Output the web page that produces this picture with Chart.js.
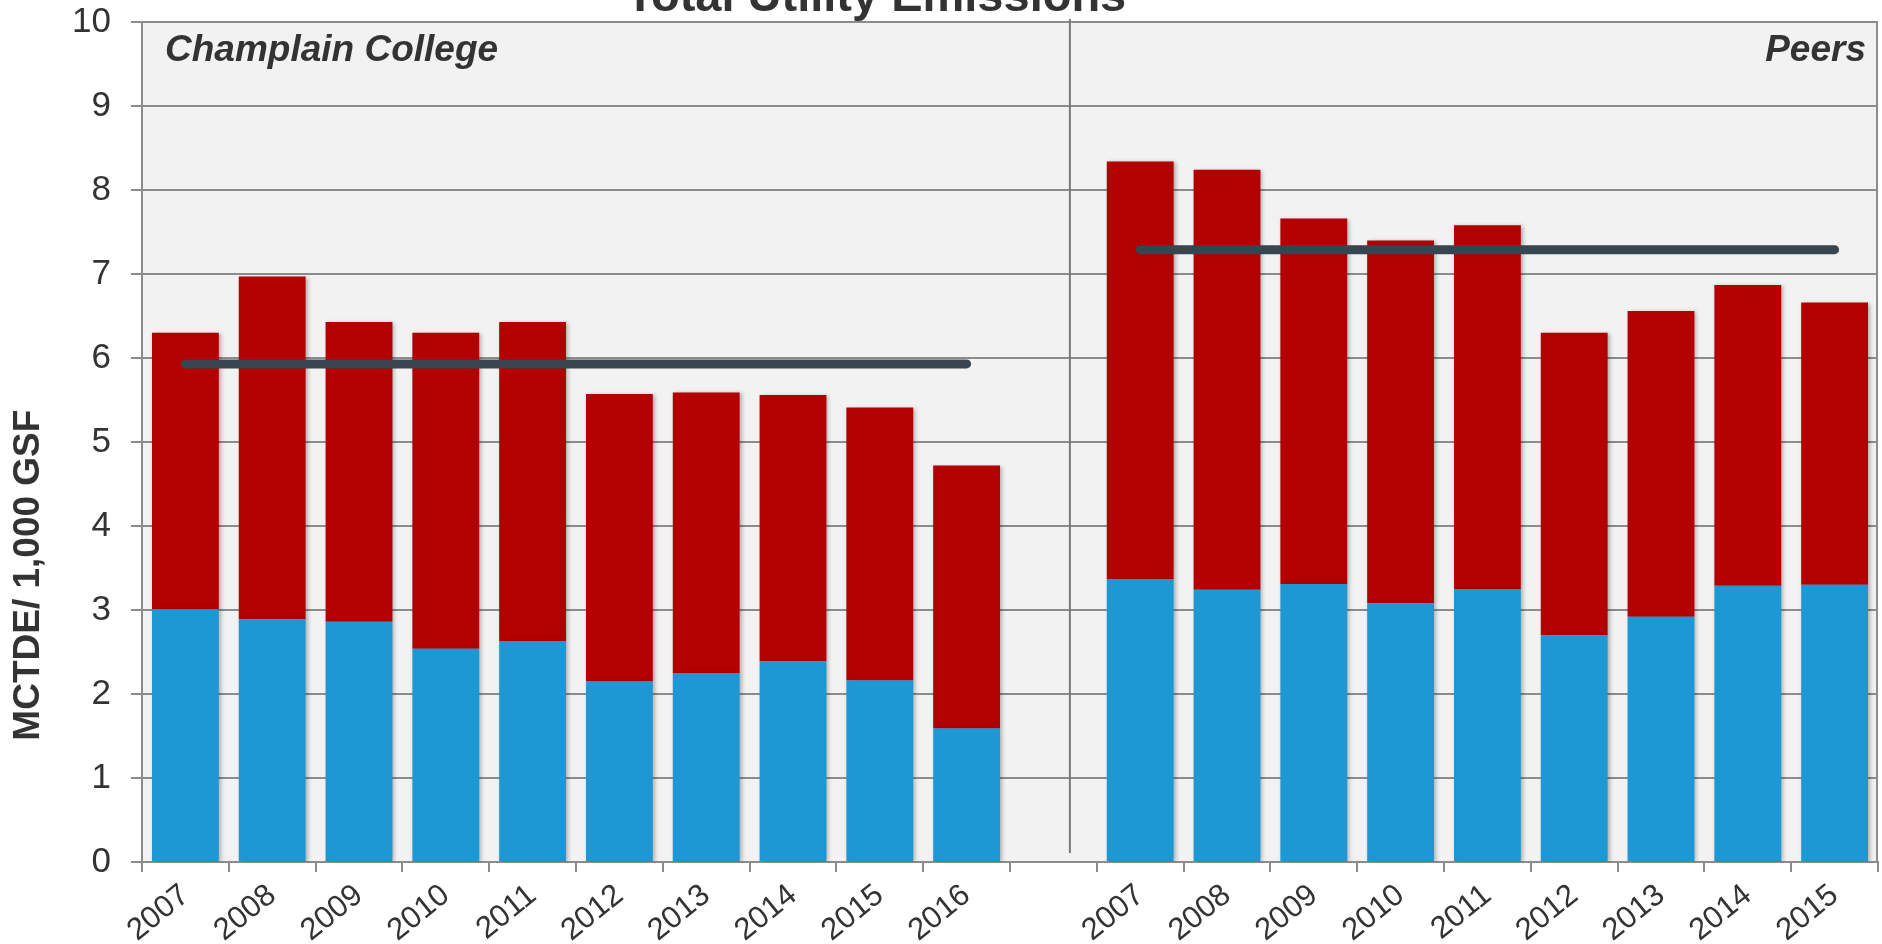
<!DOCTYPE html>
<html>
<head>
<meta charset="utf-8">
<script src="https://cdn.jsdelivr.net/npm/chart.js@4.4.1/dist/chart.umd.min.js"></script>
<style>
html,body{margin:0;padding:0;background:#ffffff;}
#wrap{position:relative;width:1882px;height:944px;overflow:hidden;}
canvas{display:block;}
</style>
</head>
<body>
<div id="wrap"><canvas id="c" width="1882" height="944"></canvas></div>
<script>
// ---- data ----
const categories = ['2007','2008','2009','2010','2011','2012','2013','2014','2015','2016','',
                    '2007','2008','2009','2010','2011','2012','2013','2014','2015'];
// lower (blue) segment
const scope1 = [3.01,2.89,2.86,2.54,2.63,2.15,2.25,2.39,2.16,1.59, null,
                3.37,3.24,3.31,3.08,3.25,2.70,2.92,3.29,3.30];
// upper (red) segment
const scope2 = [3.29,4.08,3.57,3.76,3.80,3.42,3.34,3.17,3.25,3.13, null,
                4.97,5.00,4.35,4.32,4.33,3.60,3.64,3.58,3.36];
// average lines
const collegeAvg = [5.93,5.93,5.93,5.93,5.93,5.93,5.93,5.93,5.93,5.93, null,
                    null,null,null,null,null,null,null,null,null];
const peersAvg = [null,null,null,null,null,null,null,null,null,null, null,
                  7.29,7.29,7.29,7.29,7.29,7.29,7.29,7.29,7.29];
const yTicks = [0,1,2,3,4,5,6,7,8,9,10];

const chartTitle = 'Total Utility Emissions';
const yTitle = 'MCTDE/ 1,000 GSF';
const leftPanel = 'Champlain College';
const rightPanel = 'Peers';

const FONT = "'Liberation Sans', Arial, sans-serif";
const GRID = '#8c8c8c';
const TEXT = '#333333';

const decor = {
  id: 'decor',
  beforeDraw(chart) {
    const {ctx, chartArea: a} = chart;
    ctx.save();
    ctx.fillStyle = '#f2f2f2';
    ctx.fillRect(a.left, a.top, a.right - a.left, a.bottom - a.top);
    ctx.restore();
  },
  beforeDatasetsDraw(chart) {
    const {ctx, chartArea: a, scales} = chart;
    const x = scales.x;
    const cw = (a.right - a.left) / categories.length;
    ctx.save();
    ctx.strokeStyle = GRID; ctx.lineWidth = 2;
    ctx.beginPath(); ctx.moveTo(a.right - 1, a.top); ctx.lineTo(a.right - 1, a.bottom); ctx.stroke();
    const dx = x.getPixelForValue(10) + 0.19 * cw;
    ctx.strokeStyle = '#7a7a7a'; ctx.lineWidth = 2;
    ctx.beginPath(); ctx.moveTo(dx, a.top - 3); ctx.lineTo(dx, a.bottom - 9); ctx.stroke();
    ctx.restore();
  },
  beforeDatasetDraw(chart, args) {
    if (args.meta.type === 'bar') {
      const ctx = chart.ctx;
      ctx.save();
      ctx.shadowColor = 'rgba(0,0,0,0.28)';
      ctx.shadowBlur = 4;
      ctx.shadowOffsetX = 2;
      ctx.shadowOffsetY = 1;
    }
  },
  afterDatasetDraw(chart, args) {
    if (args.meta.type === 'bar') chart.ctx.restore();
  },
  afterDraw(chart) {
    const {ctx, chartArea: a} = chart;
    const w = a.right - a.left, h = a.bottom - a.top;
    ctx.save();
    ctx.fillStyle = TEXT;
    ctx.font = 'bold 47px ' + FONT;
    ctx.textAlign = 'center'; ctx.textBaseline = 'alphabetic';
    ctx.fillText(chartTitle, a.left + 0.4228 * w, a.top - 11.5);
    ctx.font = 'italic bold 37px ' + FONT;
    ctx.textAlign = 'left';
    ctx.fillText(leftPanel, a.left + 23, a.top + 38.5);
    ctx.textAlign = 'right';
    ctx.fillText(rightPanel, a.right - 12, a.top + 38.5);
    ctx.translate(29, a.top + 0.6585 * h);
    ctx.rotate(-Math.PI / 2);
    ctx.font = 'bold 37px ' + FONT;
    ctx.textAlign = 'center'; ctx.textBaseline = 'middle';
    ctx.fillText(yTitle, 0, 0);
    ctx.restore();
  }
};

new Chart(document.getElementById('c'), {
  data: {
    labels: categories,
    datasets: [
      { type: 'line', label: 'Champlain College average', data: collegeAvg, stack: 'avgL', order: 0,
        borderColor: '#36454f', borderWidth: 9, borderCapStyle: 'round', pointRadius: 0, fill: false },
      { type: 'line', label: 'Peers average', data: peersAvg, stack: 'avgR', order: 0,
        borderColor: '#36454f', borderWidth: 9, borderCapStyle: 'round', pointRadius: 0, fill: false },
      { type: 'bar', label: 'Scope 1', data: scope1, stack: 'em', order: 1,
        backgroundColor: '#1d98d5', borderWidth: 0, barPercentage: 0.77, categoryPercentage: 1.0 },
      { type: 'bar', label: 'Scope 2', data: scope2, stack: 'em', order: 1,
        backgroundColor: '#b30000', borderWidth: 0, barPercentage: 0.77, categoryPercentage: 1.0 }
    ]
  },
  options: {
    responsive: false,
    devicePixelRatio: 1,
    animation: false,
    layout: { padding: { top: 22, right: 4, left: 0, bottom: 0 } },
    plugins: { legend: { display: false }, tooltip: { enabled: false }, title: { display: false } },
    scales: {
      x: {
        stacked: true,
        offset: true,
        grid: { offset: true, drawOnChartArea: false, drawTicks: true, tickLength: 10, color: GRID, lineWidth: 2 },
        border: { color: GRID, width: 2 },
        ticks: { autoSkip: false, maxRotation: 39, minRotation: 39, padding: 5, color: TEXT,
                 font: { family: FONT, size: 31 } },
        afterFit(s) { s.height = 82; s.paddingLeft = 0; s.paddingRight = 0; }
      },
      y: {
        stacked: true,
        min: 0, max: 10,
        afterBuildTicks(s) { s.ticks = yTicks.map(v => ({ value: v })); },
        ticks: { padding: 20, color: TEXT, font: { family: FONT, size: 35 } },
        grid: { color: GRID, lineWidth: 2, tickLength: 11 },
        border: { color: GRID, width: 2 },
        afterFit(s) { s.width = 142; s.paddingTop = 0; s.paddingBottom = 0; }
      }
    }
  },
  plugins: [decor]
});
</script>
</body>
</html>
